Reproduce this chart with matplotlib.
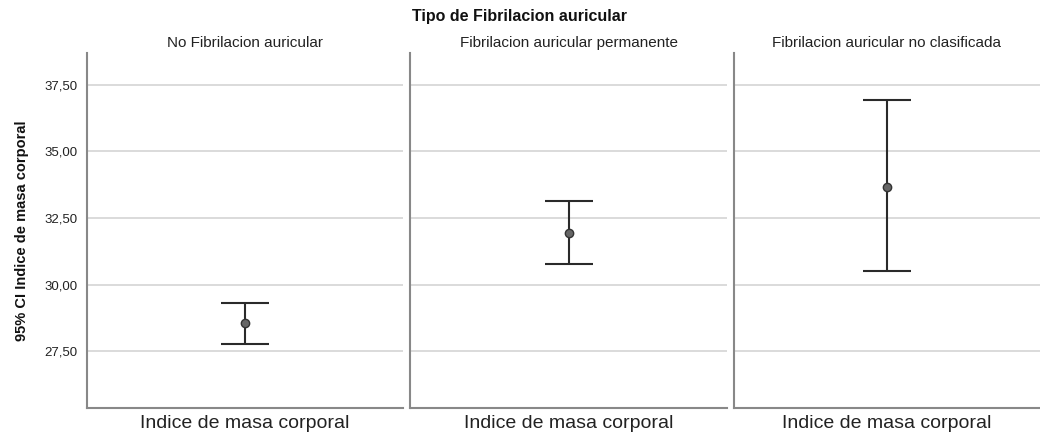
import numpy as np
import matplotlib
matplotlib.use("Agg")
from matplotlib import pyplot as plt

plt.rcParams["font.family"] = ["Liberation Sans", "DejaVu Sans"]

# 95% CI of body mass index per atrial fibrillation type
panels = ["No Fibrilacion auricular",
          "Fibrilacion auricular permanente",
          "Fibrilacion auricular no clasificada"]
means = [28.55, 31.94, 33.68]
lower = [27.78, 30.77, 30.49]
upper = [29.32, 33.14, 36.92]
yticks = [27.5, 30.0, 32.5, 35.0, 37.5]
xlabel = "Indice de masa corporal"

W, H = 1040, 432
fig = plt.figure(figsize=(W / 100, H / 100), dpi=100)

# panel extents in pixels (left, right)
extents = [(87, 403), (410, 727), (734, 1040)]
top, bottom = 53, 408

for i, (x0, x1) in enumerate(extents):
    ax = fig.add_axes([x0 / W, 1 - bottom / H, (x1 - x0) / W, (bottom - top) / H])
    ax.set_ylim(25.36, 38.7)
    ax.set_xlim(-1, 1)
    for yv in yticks:
        ax.axhline(yv, color="#d4d4d4", lw=1.2, zorder=0)
    ax.errorbar([0], [means[i]],
                yerr=[[means[i] - lower[i]], [upper[i] - means[i]]],
                fmt="o", color="#222222", ecolor="#2a2a2a", elinewidth=1.5,
                capsize=17, capthick=1.5, markersize=6,
                markerfacecolor="#666666", markeredgecolor="#333333", zorder=3)
    for s in ["top", "right"]:
        ax.spines[s].set_visible(False)
    for s in ["left", "bottom"]:
        ax.spines[s].set_color("#888888")
        ax.spines[s].set_linewidth(1.5)
    ax.set_xticks([])
    ax.set_xlabel(xlabel, fontsize=14, color="#222222", labelpad=5)
    ax.set_title(panels[i], fontsize=11, color="#222222", pad=4)
    if i == 0:
        ax.set_yticks(yticks)
        ax.set_yticklabels([f"{v:.2f}".replace(".", ",") for v in yticks],
                           fontsize=9.5, color="#222222")
        ax.tick_params(axis="y", length=0, pad=7)
        ax.set_ylabel("95% CI Indice de masa corporal", fontsize=10.5,
                      fontweight="bold", color="#111111", labelpad=11)
    else:
        ax.set_yticks([])

fig.text(0.5, 1 - 17 / H, "Tipo de Fibrilacion auricular", ha="center", va="center",
         fontsize=11.5, fontweight="bold", color="#111111")

fig.savefig("out.png", dpi=100)
